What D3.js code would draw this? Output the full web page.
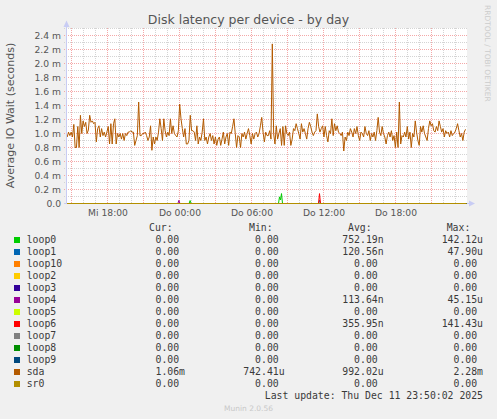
<!DOCTYPE html>
<html><head><meta charset="utf-8">
<script src="https://cdn.jsdelivr.net/npm/d3@7"></script>
<style>
html,body{margin:0;padding:0;background:#f0f0f0;}
svg{display:block;}
text{font-family:"DejaVu Sans",sans-serif;}
.mono text{font-family:"DejaVu Sans Mono",monospace;white-space:pre;}
</style></head><body>
<svg id="c" width="497" height="419"></svg>
<script>
// ---------- data ----------
const seriesNames  = ["loop0","loop1","loop10","loop2","loop3","loop4","loop5","loop6","loop7","loop8","loop9","sda","sr0"];
const seriesColors = ["#00CC00","#0066B3","#FF8000","#FFCC00","#330099","#990099","#CCFF00","#FF0000","#808080","#008F00","#00487D","#B35A00","#B38F00"];
const curValues = [0,0,0,0,0,0,0,0,0,0,0,1.06e-3,0];
const minValues = [0,0,0,0,0,0,0,0,0,0,0,742.41e-6,0];
const avgValues = [752.19e-9,120.56e-9,0,0,0,113.64e-9,0,355.95e-9,0,0,0,992.02e-6,0];
const maxValues = [142.12e-6,47.90e-6,0,0,0,45.15e-6,0,141.43e-6,0,0,0,2.28e-3,0];

const timeDomain = ["2025-12-10T14:35:00Z","2025-12-11T23:55:00Z"];
const sdaStart = "2025-12-10T14:38:30Z";
const sdaStepSeconds = 397;
// sda latency in milliseconds
const sdaValuesMs = [
0.95,1.02,0.97,1.02,0.95,1.13,0.80,0.80,1.10,0.80,
1.26,1.00,1.18,1.10,1.16,1.00,1.05,1.26,1.16,1.18,1.14,1.16,0.88,1.07,1.11,0.95,1.07,0.97,1.02,0.95,
1.02,1.10,0.85,1.14,0.85,1.14,1.21,0.85,1.00,0.95,1.00,0.92,1.00,0.90,1.00,0.97,1.02,1.02,1.04,1.02,
1.02,0.83,0.90,0.97,
1.45,
0.97,0.97,1.00,1.00,1.02,0.97,0.90,0.95,1.11,0.76,0.95,0.85,0.95,0.90,1.02,1.21,1.07,0.90,1.21,1.04,
0.95,1.02,0.97,1.21,1.00,1.11,1.00,0.97,0.95,1.04,
1.42,
1.21,1.07,0.95,1.07,0.85,0.85,0.90,1.26,1.04,1.04,1.02,0.90,1.11,0.85,0.95,0.90,1.02,1.21,0.90,0.95,
0.85,0.95,1.00,0.90,0.97,0.85,0.95,0.83,0.92,0.95,0.83,0.92,1.02,0.85,0.95,1.00,0.83,1.02,1.00,1.10,
1.21,1.00,0.80,0.97,0.95,0.80,1.00,0.95,1.02,0.92,1.00,1.07,
0.97,0.85,1.00,0.92,1.00,1.02,0.95,1.00,1.11,1.23,1.02,0.88,1.02,0.97,0.97,1.04,0.92,
2.28,
1.00,
0.85,1.11,0.92,1.00,1.07,0.83,1.10,0.83,1.11,1.00,0.97,1.02,0.83,0.92,1.07,1.04,1.14,1.07,1.00,0.92,
1.14,1.02,1.07,1.00,0.92,1.07,1.16,1.10,1.02,0.97,1.02,1.04,1.28,1.10,1.02,1.07,1.11,0.95,1.10,0.97,
0.88,1.04,1.00,1.21,0.97,1.14,1.04,1.11,1.02,1.00,0.97,1.02,0.75,0.95,0.90,1.02,0.97,1.07,1.02,0.95,
1.07,1.00,1.10,0.97,0.90,1.02,1.00,0.95,1.10,1.00,0.97,1.04,0.90,1.00,0.95,1.02,0.90,1.04,1.23,1.02,
0.97,1.10,1.00,0.95,0.85,0.97,1.02,0.95,1.04,0.90,0.97,0.80,1.02,0.80,
1.45,
0.85,0.97,0.95,1.02,0.95,1.10,0.92,1.02,0.80,1.00,0.95,1.18,1.02,0.90,0.83,1.10,1.02,1.11,1.00,0.95,
0.90,1.07,1.18,1.11,1.14,1.04,1.02,1.10,1.04,1.18,1.10,1.02,1.07,0.95,1.04,1.00,1.02,0.95,1.04,0.97,
1.00,1.02,1.07,1.14,1.04,0.95,1.00,0.90,1.02,1.06
];
// sparse samples (seconds) of the loop devices; zero elsewhere
const loop0Samples = [["2025-12-11T00:48:00Z",0],["2025-12-11T00:53:00Z",42e-6],["2025-12-11T00:58:00Z",0],
                      ["2025-12-11T08:15:00Z",0],["2025-12-11T08:20:00Z",95e-6],["2025-12-11T08:25:00Z",50e-6],["2025-12-11T08:30:00Z",142.12e-6],["2025-12-11T08:35:00Z",0]];
const loop1Samples = [["2025-12-11T11:35:00Z",0],["2025-12-11T11:40:00Z",47.90e-6],["2025-12-11T11:45:00Z",0]];
const loop4Samples = [["2025-12-10T23:52:00Z",0],["2025-12-10T23:57:00Z",45.15e-6],["2025-12-11T00:02:00Z",0]];
const loop6Samples = [["2025-12-11T11:35:00Z",0],["2025-12-11T11:40:00Z",141.43e-6],["2025-12-11T11:45:00Z",0]];

const yMax = 2.5e-3;
const yLabelTicks = [0,0.2e-3,0.4e-3,0.6e-3,0.8e-3,1.0e-3,1.2e-3,1.4e-3,1.6e-3,1.8e-3,2.0e-3,2.2e-3,2.4e-3];
const dayAbbr = ["So","Mo","Di","Mi","Do","Fr","Sa"];
const titleText = "Disk latency per device - by day";
const yTitle = "Average IO Wait (seconds)";
const lastUpdate = "Last update: Thu Dec 11 23:50:02 2025";

// ---------- drawing ----------
const svg = d3.select("#c");
svg.append("rect").attr("width",497).attr("height",419).attr("fill","#f0f0f0");

const t0 = new Date(timeDomain[0]), t1 = new Date(timeDomain[1]);
const x = d3.scaleUtc().domain([t0,t1]).range([66.5,466.5]);
const y = d3.scaleLinear().domain([0,yMax]).range([203.5,28.5]);

svg.append("rect").attr("x",67).attr("y",28).attr("width",400).attr("height",175).attr("fill","#ffffff");

const grid = svg.append("g").attr("shape-rendering","crispEdges");
const hours = d3.utcHour.range(t0,t1);
grid.selectAll("line.v").data(hours).join("line")
  .attr("x1",d=>Math.round(x(d)-0.5)+0.5).attr("x2",d=>Math.round(x(d)-0.5)+0.5)
  .attr("y1",28).attr("y2",203)
  .attr("stroke",d=>d.getUTCHours()%3===0?"#f4a8a8":"#d4d4d4")
  .attr("stroke-dasharray","1,1");
const yGrid = d3.range(1,26).map(i=>i*1e-4);
grid.selectAll("line.h").data(yGrid).join("line")
  .attr("x1",64).attr("x2",467)
  .attr("y1",d=>Math.round(y(d)-0.5)+0.5).attr("y2",d=>Math.round(y(d)-0.5)+0.5)
  .attr("stroke",(d,i)=>((i+1)%2===0)?"#f4a8a8":"#d4d4d4")
  .attr("stroke-dasharray","1,1");

const axisColor = "#c8ccf4";
svg.append("line").attr("x1",66.5).attr("x2",66.5).attr("y1",204).attr("y2",24).attr("stroke",axisColor);
svg.append("line").attr("x1",64).attr("x2",470).attr("y1",203.5).attr("y2",203.5).attr("stroke",axisColor);
svg.append("path").attr("d","M66.5,20.5 L63.5,27 L69.5,27 Z").attr("fill",axisColor);
svg.append("path").attr("d","M475,203.5 L469,200.5 L469,206.5 Z").attr("fill",axisColor);

const clip = svg.append("clipPath").attr("id","pc");
clip.append("rect").attr("x",67).attr("y",20).attr("width",401).attr("height",185);
const line = d3.line().x(d=>x(d.t)).y(d=>y(d.v));
const sparse = {loop0:loop0Samples, loop1:loop1Samples, loop4:loop4Samples, loop6:loop6Samples};
const sdaStartDate = new Date(sdaStart);
const seriesData = seriesNames.map(name=>{
  if(name==="sda"){
    return sdaValuesMs.map((v,i)=>({t:new Date(sdaStartDate.getTime()+i*sdaStepSeconds*1000), v:v*1e-3}));
  }
  const s = (sparse[name]||[]).map(([t,v])=>({t:new Date(t),v}));
  return [{t:t0,v:0},...s,{t:t1,v:0}];
});
svg.append("g").attr("clip-path","url(#pc)").selectAll("path").data(seriesData).join("path")
  .attr("d",line).attr("fill","none")
  .attr("stroke",(d,i)=>seriesColors[i]).attr("stroke-width",1);

svg.append("g").selectAll("text").data(yLabelTicks).join("text")
  .attr("x",61).attr("y",d=>y(d)+3.3).attr("text-anchor","end")
  .attr("font-size",9.2).attr("fill","#555")
  .text(d=>d===0?"0.0":(d*1000).toFixed(1)+" m");

const labelHours = hours.filter(d=>d.getUTCHours()%6===0);
svg.append("g").selectAll("text").data(labelHours).join("text")
  .attr("x",d=>x(d)+0.5).attr("y",215.7).attr("text-anchor","middle")
  .attr("font-size",9.2).attr("fill","#555")
  .text(d=>dayAbbr[d.getUTCDay()]+" "+d3.utcFormat("%H:%M")(d));

svg.append("text").attr("x",248.5).attr("y",24).attr("text-anchor","middle")
  .attr("font-size",12.5).attr("fill","#555").text(titleText);
svg.append("text").attr("transform","translate(13.5,115.5) rotate(-90)").attr("text-anchor","middle")
  .attr("font-size",11).attr("fill","#555").text(yTitle);
svg.append("text").attr("transform","translate(485,5) rotate(90)").attr("text-anchor","start")
  .attr("font-size",7.5).attr("fill","#cccccc").text("RRDTOOL / TOBI OETIKER");

function si(v){
  if(v===0) return ["0.00",""];
  const pre=[[1e-9,"n"],[1e-6,"u"],[1e-3,"m"],[1,""]];
  let p=pre[0];
  for(const q of pre){ if(v>=q[0]*0.99999) p=q; }
  return [(v/p[0]).toFixed(2),p[1]];
}
function fmt(v){ const [n,s]=si(v); return n.padStart(6," ")+s; }
const colX = {label:26.7, cur:143.7, min:243.3, avg:342.3, max:441.7};
const headerX = [149,249,348,446.7];
const lg = svg.append("g").attr("class","mono").attr("font-size",9.8).attr("fill","#3a3a3a");
["Cur:","Min:","Avg:","Max:"].forEach((h,i)=>{
  lg.append("text").attr("x",headerX[i]).attr("y",231).text(h);
});
seriesNames.forEach((name,i)=>{
  const by = 243 + 12*i;
  lg.append("rect").attr("x",14).attr("y",by-6).attr("width",6).attr("height",6).attr("fill",seriesColors[i]);
  lg.append("text").attr("x",colX.label).attr("y",by).text(name);
  lg.append("text").attr("x",colX.cur).attr("y",by).attr("xml:space","preserve").text(fmt(curValues[i]));
  lg.append("text").attr("x",colX.min).attr("y",by).attr("xml:space","preserve").text(fmt(minValues[i]));
  lg.append("text").attr("x",colX.avg).attr("y",by).attr("xml:space","preserve").text(fmt(avgValues[i]));
  lg.append("text").attr("x",colX.max).attr("y",by).attr("xml:space","preserve").text(fmt(maxValues[i]));
});
lg.append("text").attr("x",483).attr("y",399).attr("text-anchor","end").text(lastUpdate);

svg.append("text").attr("x",248.5).attr("y",410.5).attr("text-anchor","middle")
  .attr("font-size",7.5).attr("fill","#c8c8c8").text("Munin 2.0.56");
</script>
</body></html>
